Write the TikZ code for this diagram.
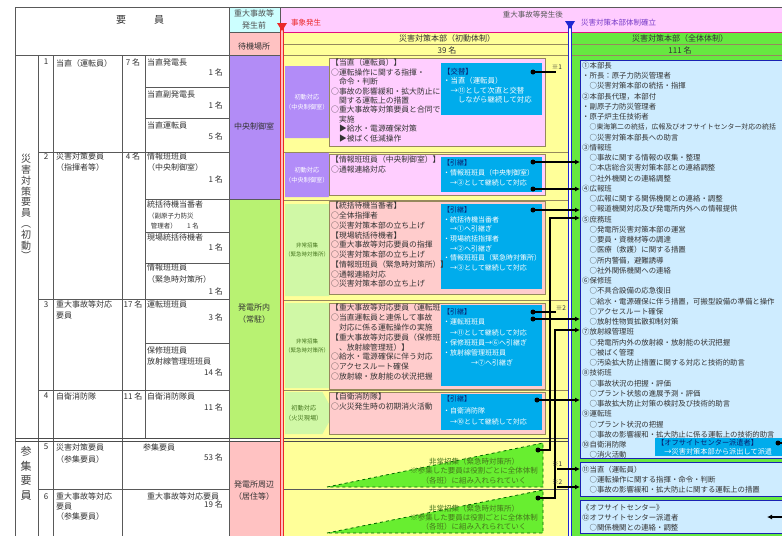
\documentclass[tikz,border=0pt]{standalone}
\usepackage{fontspec}
\setmainfont{Noto Sans CJK JP}
\usetikzlibrary{positioning,calc,arrows.meta,shapes.symbols}
\tikzset{>=Latex}
\definecolor{headcyan}{RGB}{204,255,255}
\definecolor{waitpink}{RGB}{255,194,194}
\definecolor{ctrlpurple}{RGB}{178,140,246}
\definecolor{sitegreen}{RGB}{184,242,114}
\definecolor{bandpink}{RGB}{255,204,255}
\definecolor{inityellow}{RGB}{255,255,153}
\definecolor{fullgreen}{RGB}{102,232,64}
\definecolor{teampale}{RGB}{206,236,255}
\definecolor{handblue}{RGB}{0,172,236}
\definecolor{dutypink}{RGB}{255,206,255}
\definecolor{callpink}{RGB}{255,204,204}
\definecolor{boxolive}{RGB}{150,136,92}
\definecolor{chevpurple}{RGB}{178,140,248}
\definecolor{chevgreen}{RGB}{208,248,166}
\definecolor{wedgegreen}{RGB}{104,238,48}
\definecolor{textgreen}{RGB}{70,118,30}
\definecolor{eventred}{RGB}{235,40,40}
\definecolor{setupblue}{RGB}{30,40,210}
\definecolor{setuppurple}{RGB}{120,60,200}
\definecolor{navy}{RGB}{10,30,110}
\tikzset{
  every node/.style={inner sep=0pt, text=black!80},
  grid/.style={draw=black!65, line width=0.5pt},
  rowline/.style={draw=boxolive, line width=0.8pt},
  lbl/.style={anchor=north west, align=left, font=\fontsize{8}{11}\selectfont},
  num/.style={anchor=north, font=\fontsize{8}{11}\selectfont},
  cnt/.style={anchor=north east, font=\fontsize{8}{11}\selectfont},
  loc/.style={align=center, font=\fontsize{8}{12}\selectfont},
  tallword/.style={align=center, anchor=north, text=black!75},
  taskbox/.style={draw=boxolive, line width=1.2pt, anchor=north west},
  taskline/.style={anchor=north west, align=left, font=\fontsize{7.8}{9.5}\selectfont},
  handbox/.style={fill=handblue, anchor=north west},
  handline/.style={anchor=north west, align=left, text=white, font=\fontsize{7}{9.6}\selectfont},
  chev/.style={shape=signal, signal to=east, anchor=west, minimum width=43pt, align=center},
  teambox/.style={fill=teampale, draw=setupblue!85!black, line width=1pt, anchor=north west},
  teamline/.style={anchor=north west, align=left, font=\fontsize{7.4}{10.25}\selectfont},
  wedge/.style={fill=wedgegreen, draw=green!40!black, dashed, line width=0.8pt},
  wedgeline/.style={align=center, text=textgreen, font=\fontsize{7.5}{9.2}\selectfont},
  dot/.style={circle, fill=black, minimum size=5pt},
  link/.style={line width=1.3pt},
  feed/.style={link, -{Latex[length=5pt,width=5pt]}},
  refnote/.style={font=\fontsize{6.5}{8}\selectfont},
  bandtxt/.style={font=\fontsize{7.5}{9}\selectfont}
}
\begin{document}
\begin{tikzpicture}[x=1pt,y=-1pt]
\clip (0,0) rectangle (782,536);
\fill[white] (0,0) rectangle (782,536);
% colour fields
\fill[headcyan] (229,7) rectangle (280,32);
\fill[waitpink] (229,32) rectangle (280,55);
\fill[bandpink] (280,7) rectangle (782,32);
\fill[inityellow] (284,32) rectangle (568,536);
\fill[fullgreen] (572,32) rectangle (782,536);
\fill[ctrlpurple] (229,55) rectangle (280,199);
\fill[sitegreen] (229,199) rectangle (280,438);
\fill[waitpink] (229,442) rectangle (280,536);
% table
\draw[grid] (15,7) -- (782,7) (15,55) -- (280,55);
\draw[grid] (15,7) -- (15,536) (229,7) -- (229,536) (280,7) -- (280,536);
\draw[grid] (38,55) -- (38,536) (53,55) -- (53,536) (122,55) -- (122,536) (145,55) -- (145,438);
\draw[grid] foreach \y in {152,299,390,489} {(38,\y) -- (229,\y)};
\draw[grid] foreach \y in {87,118,199,232,263,343} {(145,\y) -- (229,\y)};
\draw[grid] (229,32) -- (280,32) (229,199) -- (280,199);
\draw[rowline] (284,44) -- (568,44) (284,55) -- (568,55);
\draw[rowline] foreach \y in {152,200,300,390} {(284,\y) -- (568,\y)};
\draw[grid] (284,489) -- (568,489);
\draw[rowline] (572,44) -- (782,44) (572,55) -- (782,55);
\draw[black!70, line width=0.8pt] (15,438.5) -- (568,438.5) (15,441.5) -- (568,441.5);
\draw[magenta!80!purple, line width=0.8pt] (280,32) -- (782,32);
% time lines
\draw[eventred, line width=1pt, double=red!25, double distance=1.2pt] (282,25) -- (282,536);
\fill[eventred] (277,23) -- (287,23) -- (282,31) -- cycle;
\draw[setupblue, line width=1pt, double=white, double distance=1.5pt] (570,25) -- (570,536);
\fill[setupblue] (565,21) -- (575,21) -- (570,29) -- cycle;

% headers
\node[font=\fontsize{10}{12}\selectfont] (staffhd) at (140,20) {要\hspace{2.8em}員};
\node[loc, text=black!70] (beforehd) at (254,19) {重大事故等\\発生前};
\node[loc] (waithd) at (254,46) {待機場所};
\node[bandtxt, anchor=west, text=eventred] (eventlbl) at (291,23) {事象発生};
\node[bandtxt, anchor=east, text=black!65] (afterlbl) at (563,15) {重大事故等発生後};
\node[bandtxt, anchor=west, text=setuppurple] (setuplbl) at (581,23) {災害対策本部体制確立};
\node[font=\fontsize{8}{10}\selectfont] (inithd) at (447,38) {災害対策本部（初動体制）};
\node[font=\fontsize{8}{10}\selectfont] (initnum) at (447,50) {39 名};
\node[font=\fontsize{8}{10}\selectfont] (fullhd) at (680,38) {災害対策本部（全体体制）};
\node[font=\fontsize{8}{10}\selectfont] (fullnum) at (680,50) {111 名};

% staff table
\node[tallword, font=\fontsize{10}{10.8}\selectfont] (firstgrp) at (26,154) {災\\害\\対\\策\\要\\員\\︵\\初\\動\\︶};
\node[tallword, font=\fontsize{11}{14.7}\selectfont] (callgrp) at (26,446) {参\\集\\要\\員};

\node[num] (r1no) at (46,59) {1};
\node[lbl] (r1name) at (56,59) {当直（運転員）};
\node[num] (r1cnt) at (133,59) {7 名};
\node[lbl] (r1a) at (147,59) {当直発電長};
\node[cnt] (r1an) at (223,69) {1 名};
\node[lbl] (r1b) at (147,91) {当直副発電長};
\node[cnt] (r1bn) at (223,102) {1 名};
\node[lbl] (r1c) at (147,122) {当直運転員};
\node[cnt] (r1cn) at (223,133) {5 名};

\node[num] (r2no) at (46,153) {2};
\node[lbl] (r2name) at (56,153) {災害対策要員\\（指揮者等）};
\node[num] (r2cnt) at (133,153) {4 名};
\node[lbl] (r2a) at (147,153) {情報班班員\\（中央制御室）};
\node[cnt] (r2an) at (223,176) {1 名};
\node[lbl] (r2b) at (147,201) {統括待機当番者};
\node[lbl, font=\fontsize{6.5}{10.5}\selectfont] (r2bsub) at (148,212.5) {（副原子力防災\\\hspace{0.4em}管理者）\hspace{1.6em}1 名};
\node[lbl] (r2c) at (147,234) {現場統括待機者};
\node[cnt] (r2cn) at (223,244) {1 名};
\node[lbl, font=\fontsize{8}{12}\selectfont] (r2d) at (147,264) {情報班班員\\（緊急時対策所）};
\node[cnt] (r2dn) at (223,288) {1 名};

\node[num] (r3no) at (46,301) {3};
\node[lbl] (r3name) at (56,301) {重大事故等対応\\要員};
\node[num] (r3cnt) at (133,301) {17 名};
\node[lbl] (r3a) at (147,301) {運転班班員};
\node[cnt] (r3an) at (223,314) {3 名};
\node[lbl, font=\fontsize{8}{10.5}\selectfont] (r3b) at (147,347) {保修班班員\\放射線管理班班員};
\node[cnt] (r3bn) at (223,369) {14 名};

\node[num] (r4no) at (46,393) {4};
\node[lbl] (r4name) at (56,393) {自衛消防隊};
\node[num] (r4cnt) at (133,393) {11 名};
\node[lbl] (r4a) at (147,393) {自衛消防隊員};
\node[cnt] (r4an) at (223,404) {11 名};

\node[num] (r5no) at (46,444) {5};
\node[lbl, font=\fontsize{8}{12}\selectfont] (r5name) at (56,444) {災害対策要員\\（参集要員）};
\node[lbl] (r5a) at (143,444) {参集要員};
\node[cnt] (r5an) at (223,454) {53 名};

\node[num] (r6no) at (46,493) {6};
\node[lbl, font=\fontsize{8}{10}\selectfont] (r6name) at (56,493) {重大事故等対応\\要員\\（参集要員）};
\node[lbl] (r6a) at (147,493) {重大事故等対応要員};
\node[cnt] (r6an) at (223,501) {19 名};

\node[loc] (ctrlroom) at (254,126) {中央制御室};
\node[loc] (onsite) at (254,314) {発電所内\\（常駐）};
\node[loc] (nearby) at (254,491) {発電所周辺\\（居住等）};

% initial response rows
\node[chev, fill=chevpurple, minimum height=72pt, signal pointer angle=136, text=white, font=\fontsize{6.2}{10.5}\selectfont] (chevA) at (285,102) {初動対応\\（中央制御室）};
\node[chev, fill=chevpurple, minimum height=44pt, signal pointer angle=122, text=white, font=\fontsize{6.2}{10.5}\selectfont] (chevB) at (285,175) {初動対応\\（中央制御室）};
\node[chev, fill=chevgreen, minimum height=92pt, signal pointer angle=146, text=textgreen, font=\fontsize{5.5}{9}\selectfont] (chevC) at (285,250) {非常招集\\（緊急時対策所）};
\node[chev, fill=chevgreen, minimum height=85pt, signal pointer angle=143, text=textgreen, font=\fontsize{5.5}{9}\selectfont] (chevD) at (285,345.5) {非常招集\\（緊急時対策所）};
\node[chev, fill=chevgreen, minimum height=42pt, signal pointer angle=122, text=textgreen, font=\fontsize{6.2}{10.5}\selectfont] (chevE) at (285,413) {初動対応\\（火災現場）};

\node[taskbox, fill=dutypink, minimum width=216pt, minimum height=88pt] (dutybox) at (329,58) {};
\node[handbox, minimum width=101pt, minimum height=52pt] (swapbox) at (441,63) {};
\node[taskline, font=\fontsize{7.8}{9.4}\selectfont] (dutytxt) at ([shift={(2,1)}]dutybox.north west) {【当直（運転員）】\\○運転操作に関する指揮・\\　命令・判断\\○事故の影響緩和・拡大防止に\\　関する運転上の措置\\○重大事故等対策要員と合同で\\　実施\\　▶給水・電源確保対策\\　▶被ばく低減操作};
\node[handline, font=\fontsize{7.4}{9.5}\selectfont] (swaptxt) at ([shift={(2,5)}]swapbox.north west) {{\color{navy}【交替】}\\・当直（運転員）\\　→⑪として次直と交替\\　　しながら継続して対応};

\node[taskbox, fill=dutypink, minimum width=216pt, minimum height=41pt] (infobox) at (329,154) {};
\node[handbox, minimum width=101pt, minimum height=35pt] (infohand) at (441,157) {};
\node[taskline] (infotxt) at ([shift={(2,2)}]infobox.north west) {【情報班班員（中央制御室）】\\○通報連絡対応};
\node[handline, font=\fontsize{7}{10}\selectfont] (infohtxt) at ([shift={(2,2.5)}]infohand.north west) {{\color{navy}【引継】}\\・情報班班員（中央制御室）\\　→③として継続して対応};

\node[taskbox, fill=callpink, minimum width=216pt, minimum height=93pt] (leadbox) at (329,200.5) {};
\node[handbox, minimum width=101pt, minimum height=85pt] (leadhand) at (441,204) {};
\node[taskline, font=\fontsize{7.8}{9.75}\selectfont] (leadtxt) at ([shift={(2,1.5)}]leadbox.north west) {【統括待機当番者】\\○全体指揮者\\○災害対策本部の立ち上げ\\【現場統括待機者】\\○重大事故等対応要員の指揮\\○災害対策本部の立ち上げ\\【情報班班員（緊急時対策所）】\\○通報連絡対応\\○災害対策本部の立ち上げ};
\node[handline] (leadhtxt) at ([shift={(2,2.5)}]leadhand.north west) {{\color{navy}【引継】}\\・統括待機当番者\\　→①へ引継ぎ\\・現場統括指揮者\\　→②へ引継ぎ\\・情報班班員（緊急時対策所）\\　→③として継続して対応};

\node[taskbox, fill=callpink, minimum width=216pt, minimum height=86pt] (sabox) at (329,302.5) {};
\node[taskline, font=\fontsize{7.8}{9.8}\selectfont] (satxt) at ([shift={(2,1.5)}]sabox.north west) {【重大事故等対応要員（運転班\\○当直運転員と連係して事故\\　対応に係る運転操作の実施\\【重大事故等対応要員（保修班\\　、放射線管理班）】\\○給水・電源確保に伴う対応\\○アクセスルート確保\\○放射線・放射能の状況把握};
\node[handbox, minimum width=101pt, minimum height=81pt] (sahand) at (441,305) {};
\node[handline, font=\fontsize{7}{10.2}\selectfont] (sahtxt) at ([shift={(2,3.5)}]sahand.north west) {{\color{navy}【引継】}\\・運転班班員\\　→⑪として継続して対応\\・保修班班員→⑥へ引継ぎ\\・放射線管理班班員\\　　　　→⑦へ引継ぎ};

\node[taskbox, fill=callpink, minimum width=216pt, minimum height=42pt] (firebox) at (329,392) {};
\node[handbox, minimum width=101pt, minimum height=36pt] (firehand) at (441,394) {};
\node[taskline, font=\fontsize{7.8}{10}\selectfont] (firetxt) at ([shift={(2,0.5)}]firebox.north west) {【自衛消防隊】\\○火災発生時の初期消火活動};
\node[handline, font=\fontsize{7}{11.5}\selectfont] (firehtxt) at ([shift={(2,1.5)}]firehand.north west) {{\color{navy}【引継】}\\・自衛消防隊\\　→⑩として継続して対応};

% call-up wedges
\draw[wedge] (327,487) -- (543,443) -- (543,487) -- cycle;
\node[wedgeline] (wedgeFtxt) at (474,471) {非常招集（緊急時対策所）\\※参集した要員は役割ごとに全体体制\\（各班）に組み入れられていく};
\draw[wedge] (327,533) -- (543,490) -- (543,533) -- cycle;
\node[wedgeline] (wedgeGtxt) at (474,517.5) {非常招集（緊急時対策所）\\※参集した要員は役割ごとに全体体制\\（各班）に組み入れられていく};

% full-scale teams
\node[teambox, minimum width=215pt, minimum height=398pt] (teambox) at (580,60) {};
\node[teamline] (teamtxt) at (582,61.8) {①本部長\\・所長：原子力防災管理者\\　○災害対策本部の統括・指揮\\②本部長代理，本部付\\・副原子力防災管理者\\・原子炉主任技術者\\\hspace{1em}{\fontsize{6.9}{10.25}\selectfont ○東海第二の統括，広報及びオフサイトセンター対応の統括}\\　○災害対策本部長への助言\\③情報班\\　○事故に関する情報の収集・整理\\　○本店総合災害対策本部との連絡調整\\　○社外機関との連絡調整\\④広報班\\　○広報に関する関係機関との連絡・調整\\　○報道機関対応及び発電所内外への情報提供\\⑤庶務班\\　○発電所災害対策本部の運営\\　○要員・資機材等の調達\\　○医療（救護）に関する措置\\　○所内警備，避難誘導\\　○社外関係機関への連絡\\⑥保修班\\　○不具合設備の応急復旧\\　○給水・電源確保に伴う措置，可搬型設備の準備と操作\\　○アクセスルート確保\\　○放射性物質拡散抑制対策\\⑦放射線管理班\\　○発電所内外の放射線・放射能の状況把握\\　○被ばく管理\\　○汚染拡大防止措置に関する対応と技術的助言\\⑧技術班\\　○事故状況の把握・評価\\　○プラント状態の進展予測・評価\\　○事故拡大防止対策の検討及び技術的助言\\⑨運転班\\　○プラント状況の把握\\　○事故の影響緩和・拡大防止に係る運転上の技術的助言\\⑩自衛消防隊\\　○消火活動};
\node[handbox, minimum width=140pt, minimum height=18pt] (dispatch) at (655,438) {};
\node[handline, font=\fontsize{7.2}{9}\selectfont] (dispatchtxt) at ([shift={(2,1.5)}]dispatch.north west) {{\color{navy}【オフサイトセンター派遣者】}\\　→災害対策本部から派出して派遣};
\node[teambox, minimum width=215pt, minimum height=34pt] (dutyteam) at (580,462) {};
\node[teamline, font=\fontsize{7.4}{10}\selectfont] (dutyteamtxt) at (582,465.8) {⑪当直（運転員）\\　○運転操作に関する指揮・命令・判断\\　○事故の影響緩和・拡大防止に関する運転上の措置};
\node[teambox, minimum width=215pt, minimum height=33pt] (offsite) at (580,500) {};
\node[teamline, font=\fontsize{7.4}{10}\selectfont] (offsitetxt) at (582,503.8) {《オフサイトセンター》\\⑫オフサイトセンター派遣者\\　○関係機関との連絡・調整};

% hand-over links
\node[dot] (dA) at (533,72) {};
\node[dot] (dB1) at (533,162) {};
\node[dot] (dB2) at (533,189) {};
\node[dot] (dC) at (533,210) {};
\node[dot] (dD1) at (533,312) {};
\node[dot] (dD2) at (533,319) {};
\node[dot] (dE) at (537,400) {};
\node[dot] (dF) at (538,450) {};
\node[dot] (dG) at (538,498) {};
\node[dot] (dOff) at (778,443) {};
\coordinate (refA) at (556,72);
\coordinate (refD) at (556,312);
\coordinate (riseF) at (550,218);
\coordinate (riseG) at (555,330);
\coordinate (from1) at (557,469);
\coordinate (from2) at (557,487);
\coordinate (offturn) at (790,443);
\coordinate (offdown) at (790,517);
\coordinate (offin) at (767,517);
\draw[link] (dA.center) -- (refA);
\node[refnote, anchor=south] (ref1) at (557,70) {※1};
\draw[feed] (dB1.center) -- (dB1 -| teambox.west);
\draw[feed] (dB2.center) -- (dB2 -| teambox.west);
\draw[feed] (dC.center) -- (dC -| teambox.west);
\draw[feed] (dF.center) -- (dF -| riseF) -- (riseF) -- (riseF -| teambox.west);
\draw[link] (dD1.center) -- (refD);
\node[refnote, anchor=south] (ref2) at (561,311) {※2};
\draw[feed] (dD2.center) -- (dD2 -| teambox.west);
\draw[feed] (dG.center) -- (dG -| riseG) -- (riseG) -- (riseG -| teambox.west);
\draw[feed] (dE.center) -- (dE -| teambox.west);
\node[refnote, anchor=south west] (ref1b) at (552,467) {※1};
\draw[feed] (from1) -- (from1 -| dutyteam.west);
\node[refnote, anchor=south west] (ref2b) at (552,485) {※2};
\draw[feed] (from2) -- (from2 -| dutyteam.west);
\draw[feed] (dOff.center) -- (offturn) -- (offdown) -- (offin);
\end{tikzpicture}
\end{document}
